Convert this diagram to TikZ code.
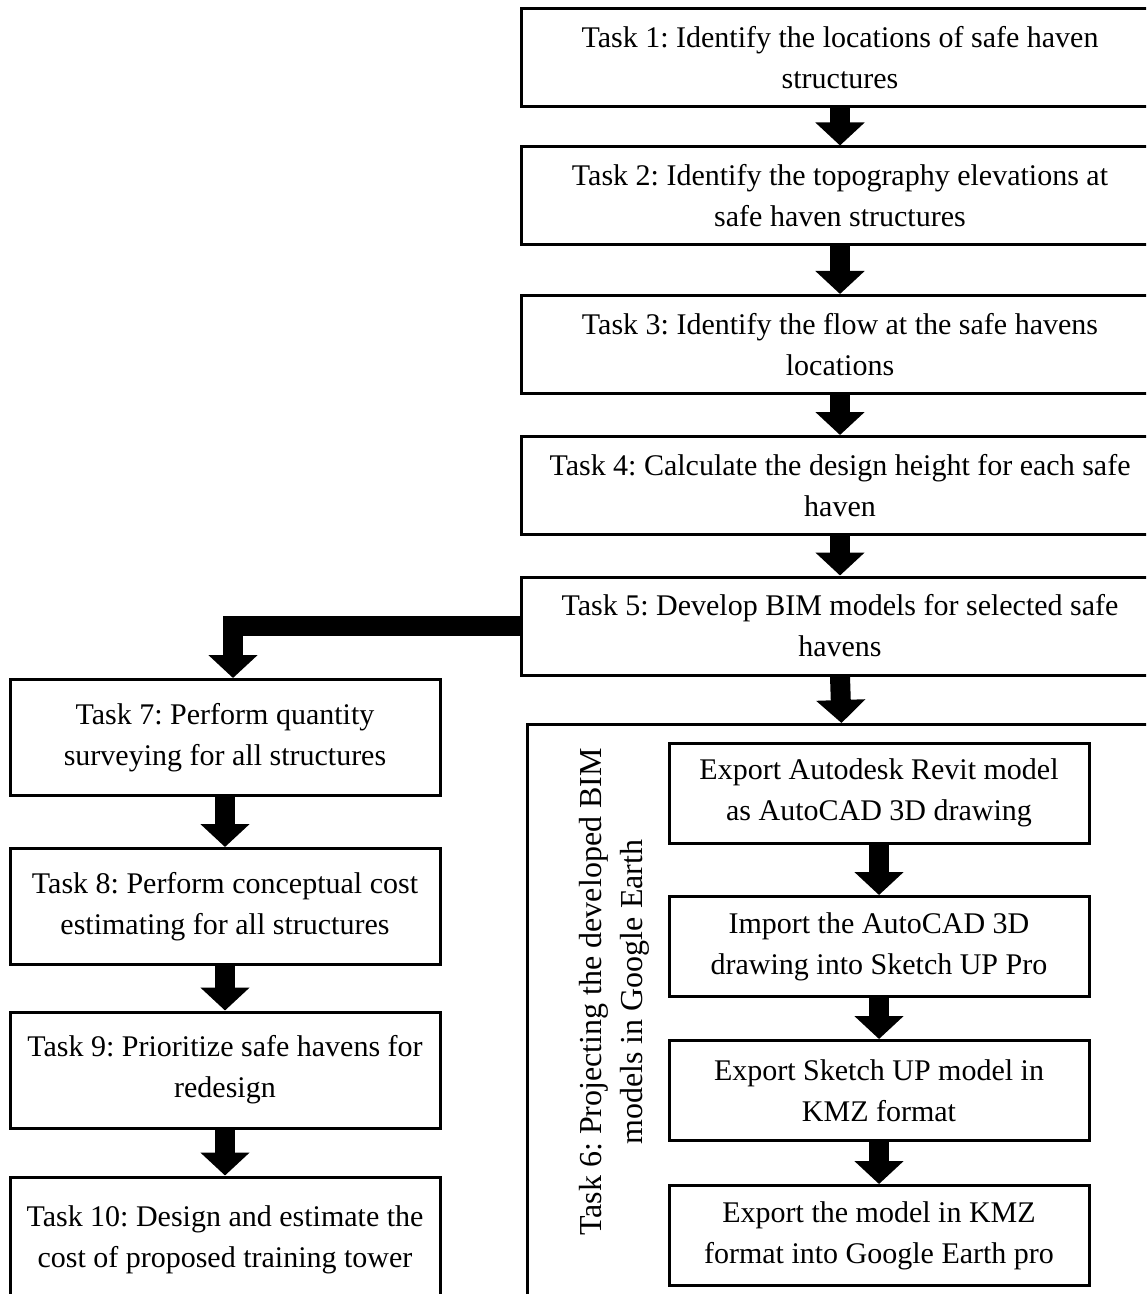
\documentclass[tikz,border=0pt]{standalone}
\usepackage{fontspec}
\setmainfont{Liberation Serif}
\usetikzlibrary{arrows.meta}
\frenchspacing

\begin{document}
\begin{tikzpicture}[x=0.5pt,y=-0.5pt,
  task/.style={draw, line width=1.5pt, align=center, inner sep=0pt, font=\fontsize{15}{20.5}\selectfont},
  mainbox/.style={task, minimum width=319pt, minimum height=49pt},
  sidebox/.style={task, minimum width=215pt, minimum height=58pt},
  subbox/.style={task, minimum width=210pt, minimum height=50pt},
  bigarrow/.style={line width=10pt, -{Triangle[width=24pt,length=11.5pt]}}]
\clip (0,0) rectangle (1146,1294);

\node[mainbox] (t1) at (840,57.5) {Task 1: Identify the locations of safe haven\\structures};
\node[mainbox] (t2) at (840,196) {Task 2: Identify the topography elevations at\\safe haven structures};
\node[mainbox] (t3) at (840,344.5) {Task 3: Identify the flow at the safe havens\\locations};
\node[mainbox] (t4) at (840,485.5) {Task 4: Calculate the design height for each safe\\haven};
\node[mainbox] (t5) at (840,626) {Task 5: Develop BIM models for selected safe\\havens};

\node[draw, line width=1.5pt, inner sep=0pt, minimum width=314pt, minimum height=299pt, anchor=north west] (t6) at (526,723) {};
\node[rotate=90, align=center, font=\fontsize{16}{20.5}\selectfont] (t6lbl) at (614,992) {Task 6: Projecting the developed BIM\\models in Google Earth};

\node[subbox] (s1) at (879,793) {Export Autodesk Revit model\\as AutoCAD 3D drawing};
\node[subbox] (s2) at (879,946.5) {Import the AutoCAD 3D\\drawing into Sketch UP Pro};
\node[subbox] (s3) at (879,1090.5) {Export Sketch UP model in\\KMZ format};
\node[subbox] (s4) at (879,1235.5) {Export the model in KMZ\\format into Google Earth pro};

\node[sidebox] (t7) at (225,737.5) {Task 7: Perform quantity\\surveying for all structures};
\node[sidebox] (t8) at (225,906.5) {Task 8: Perform conceptual cost\\estimating for all structures};
\node[sidebox] (t9) at (225,1070) {Task 9: Prioritize safe havens for\\redesign};
\node[sidebox, minimum height=63pt] (t10) at (225,1240) {Task 10: Design and estimate the\\cost of proposed training tower};

\foreach \a/\b in {t1/t2,t2/t3,t3/t4,t4/t5,t5/t6,t7/t8,t8/t9,t9/t10,s1/s2,s2/s3,s3/s4}
  \draw[bigarrow] (\a.south) -- (\b.north);
\draw[bigarrow, line join=miter] (t5.west) -| ([xshift=4pt]t7.north);
\end{tikzpicture}
\end{document}
